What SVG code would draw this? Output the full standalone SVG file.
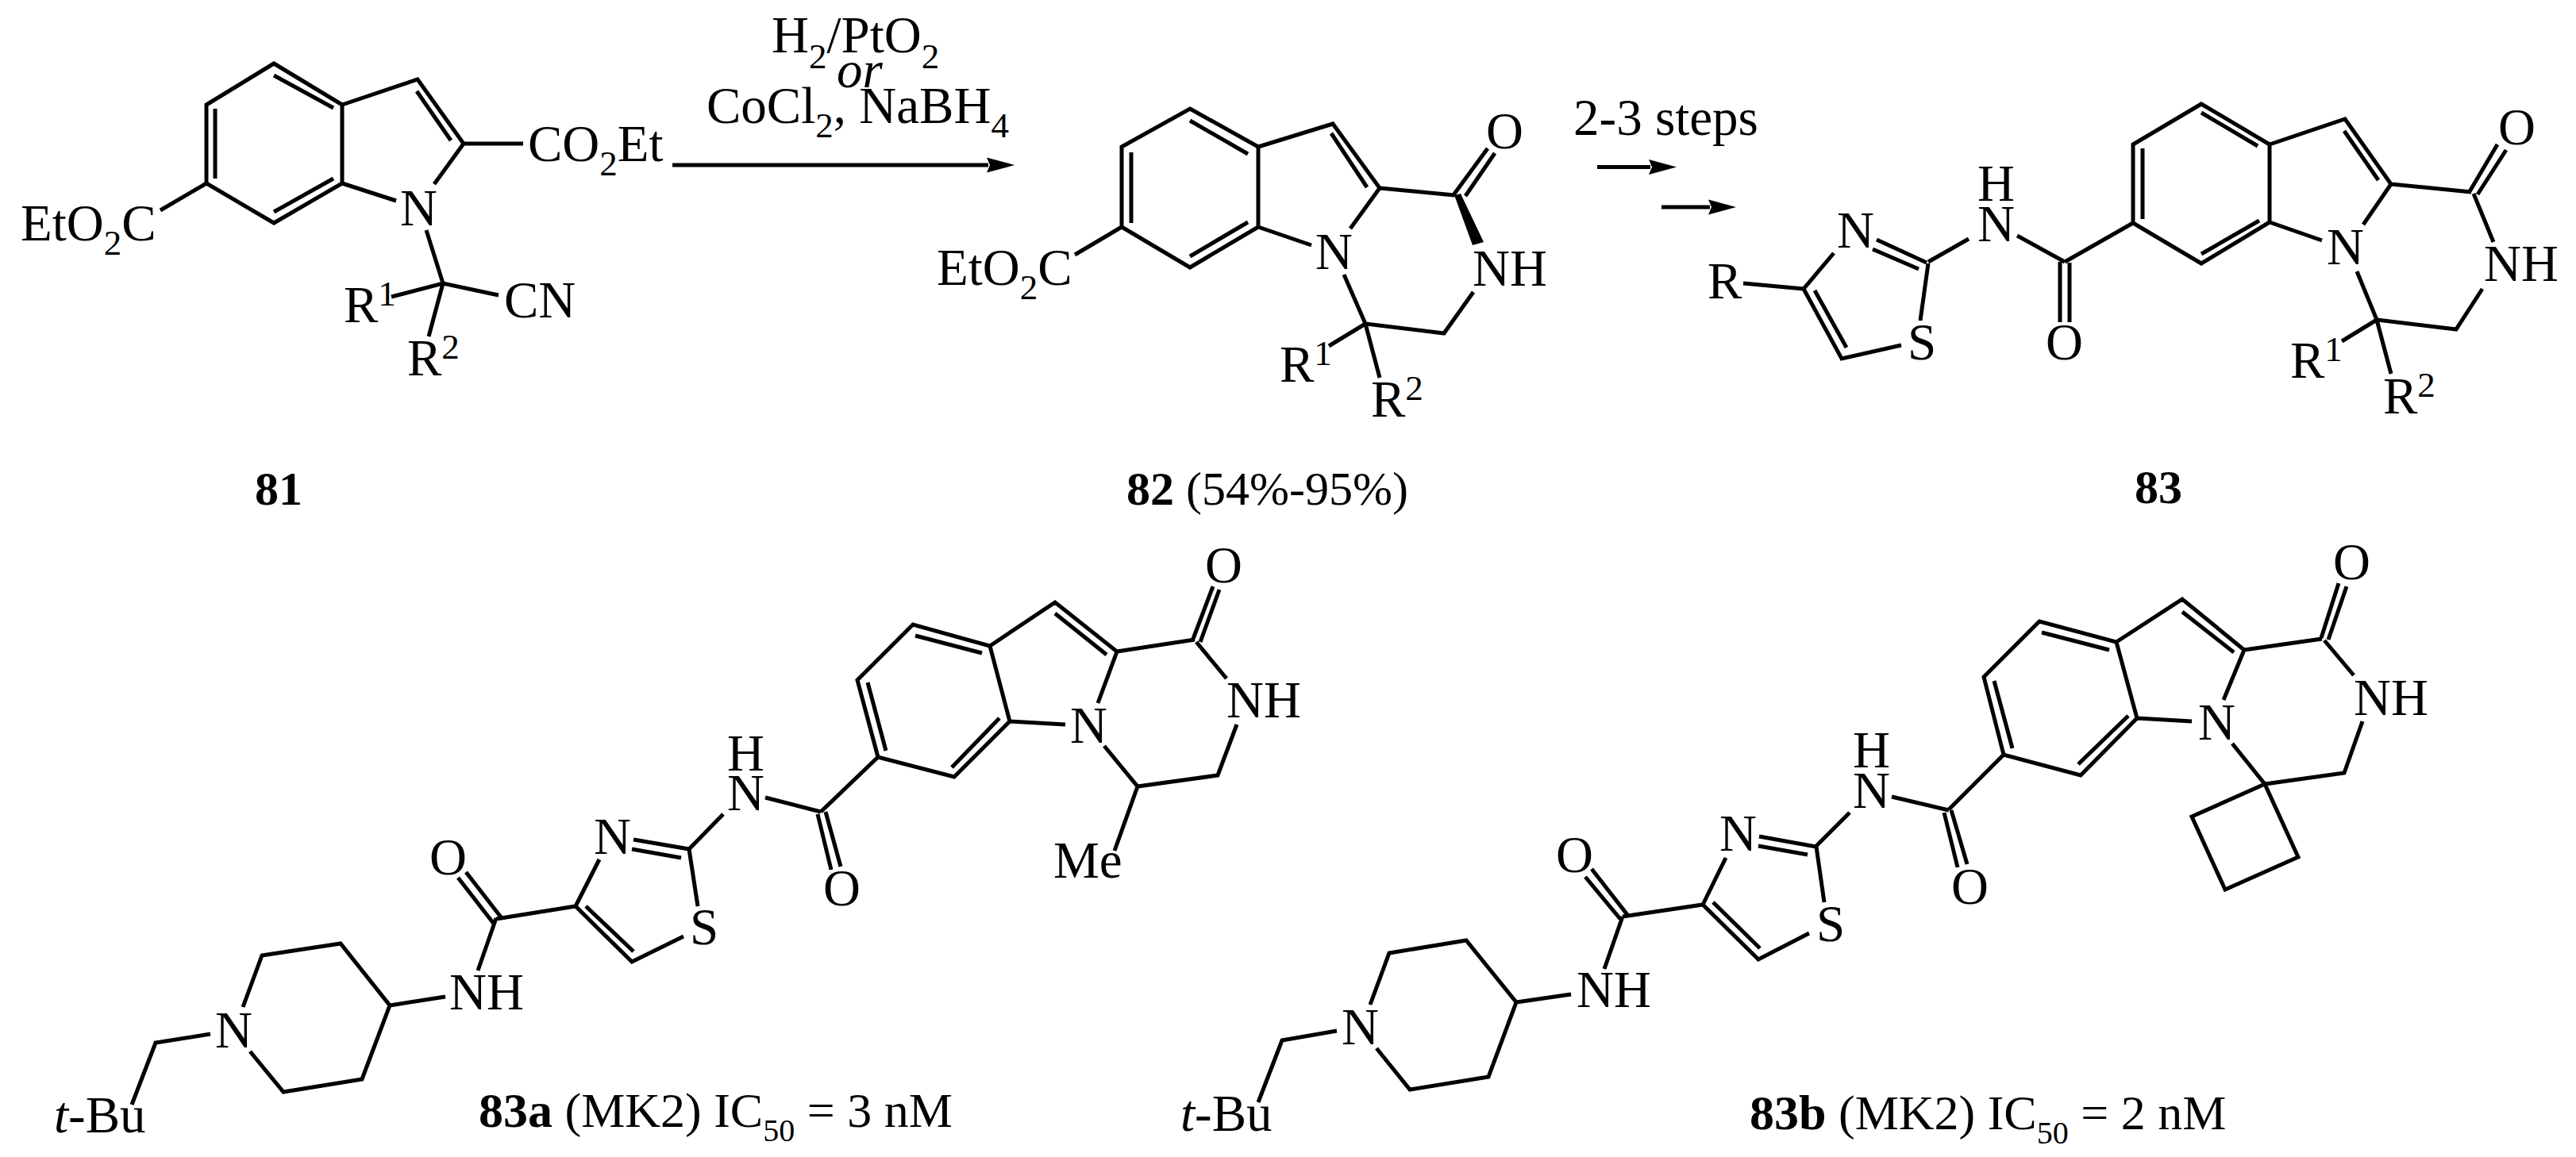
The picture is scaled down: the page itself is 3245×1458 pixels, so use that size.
<svg xmlns="http://www.w3.org/2000/svg" width="3245" height="1458" viewBox="0 0 3245 1458">
<style>
text{font-family:"Liberation Serif","Times New Roman",serif;font-size:65px;fill:#000}
.s{font-size:45px}
.b{font-weight:700;font-size:60px}
.l{font-size:62px}
.lb{font-size:62px;font-weight:700}
.i{font-style:italic}
.bond{fill:none;stroke:#000;stroke-width:5;stroke-linecap:butt;stroke-linejoin:miter}
.arrow{fill:none;stroke:#000;stroke-width:5}
</style>
<defs>
<marker id="head" markerUnits="userSpaceOnUse" markerWidth="40" markerHeight="26" refX="2" refY="13" orient="auto">
<path d="M0 3.5L35 13L0 22.5L4 13Z" fill="#000"/>
</marker>
</defs>
<rect width="3245" height="1458" fill="#fff"/>

<g id="connectors">
<path class="arrow" d="M847 208H1245" marker-end="url(#head)"/>
<path class="arrow" d="M2012 210.5H2079" marker-end="url(#head)"/>
<path class="arrow" d="M2093 261H2154" marker-end="url(#head)"/>
</g>

<g id="reagents">
<text x="972" y="66">H<tspan class="s" dy="20">2</tspan><tspan dy="-20">/PtO</tspan><tspan class="s" dy="20">2</tspan></text>
<text class="i" x="1054" y="110">or</text>
<text x="890" y="155">CoCl<tspan class="s" dy="18">2</tspan><tspan dy="-18">, NaBH</tspan><tspan class="s" dy="18">4</tspan></text>
<text x="1982" y="170">2-3 steps</text>
</g>

<g id="compound-81">
<path class="bond" d="M345 80L431 132V231L345 281L260 231V132ZM345 95L420 136M271 137V225M345 267L420 225M431 132L526 100L584 181L547 232M525 115L568 177M431 231L499 253M584 181H659M260 231L202 265M537 290L558 357M493 374L558 357L628 372M558 357L540 424"/>
<text x="26" y="303">EtO<tspan class="s" dy="18">2</tspan><tspan dy="-18">C</tspan></text>
<text x="665" y="203">CO<tspan class="s" dy="18">2</tspan><tspan dy="-18">Et</tspan></text>
<text x="504" y="284">N</text>
<text x="433" y="406">R<tspan class="s" dy="-21">1</tspan></text>
<text x="513" y="473">R<tspan class="s" dy="-21">2</tspan></text>
<text x="635" y="400">CN</text>
<text class="b" x="321" y="636">81</text>
</g>

<g id="compound-82">
<path class="bond" d="M1499 137L1585 185V286L1499 337L1413 286V185ZM1499 152L1572 194M1425 192V281M1499 323L1572 280M1585 185L1679 156L1738 237L1701 288M1677 168L1722 236M1585 286L1652 309M1738 237L1832 246M1830 247L1874 187M1846 247L1883 193M1856 368L1819 420L1720 408L1693 346M1720 408L1674 436M1720 408L1738 476M1413 286L1354 321"/>
<polygon points="1832,246 1855,309 1869,305 1840,244" fill="#000"/>
<text x="1180" y="359">EtO<tspan class="s" dy="18">2</tspan><tspan dy="-18">C</tspan></text>
<text x="1657" y="339">N</text>
<text x="1872" y="187">O</text>
<text x="1855" y="360">NH</text>
<text x="1612" y="481">R<tspan class="s" dy="-21">1</tspan></text>
<text x="1727" y="525">R<tspan class="s" dy="-21">2</tspan></text>
<text class="b" x="1419" y="636">82<tspan style="font-weight:400"> (54%-95%)</tspan></text>
</g>

<g id="compound-83">
<path class="bond" d="M2773 131L2859 182V280L2773 332L2687 281V182ZM2773 142L2844 184M2699 187V276M2773 320L2846 278M2859 182L2954 150L3012 232L2977 283M2953 165L2996 227M2859 280L2925 303M3012 232L3113 242M3110 243L3146 182M3121 245L3157 189M3116 244L3141 305M3127 364L3094 415L2994 403L2969 342M2994 403L2950 430M2994 403L3012 471M2687 281L2601 330M2595 330V406M2607 331V406M2601 330L2541 297M2480 301L2429 330M2427 331L2364 302M2417 339L2359 314M2429 332L2419 404M2395 435L2320 452L2272 364L2310 319M2326 438L2286 366M2272 364L2196 357"/>
<text x="2931" y="333">N</text>
<text x="3147" y="182">O</text>
<text x="3129" y="354">NH</text>
<text x="2885" y="476">R<tspan class="s" dy="-21">1</tspan></text>
<text x="3002" y="521">R<tspan class="s" dy="-21">2</tspan></text>
<text x="2577" y="453">O</text>
<text x="2491" y="304">N</text>
<text x="2491" y="253">H</text>
<text x="2314" y="312">N</text>
<text x="2403" y="453">S</text>
<text x="2151" y="376">R</text>
<text class="b" x="2689" y="634">83</text>
</g>

<g id="compound-83a">
<path class="bond" d="M166 1392L196 1314L265 1303M306 1269L330 1204L429 1189L491 1267L456 1360L357 1376L315 1325M491 1267L561 1256M602 1223L625 1157M622 1164L577 1106M632 1157L587 1099M625 1158L725 1142L796 1212L861 1180M738 1142L798 1199M879 1142L868 1070L798 1058M858 1081L796 1070M755 1083L725 1142M868 1070L911 1026M964 1005L1034 1023M1030 1026L1047 1096M1040 1023L1059 1092M1034 1023L1106 954L1202 979L1272 909L1247 814L1150 787L1080 857L1106 954M1116 946L1093 860M1199 967L1259 905M1153 801L1237 823M1247 814L1329 759L1407 821L1383 886M1329 773L1394 825M1272 909L1342 913M1407 821L1505 806M1503 805L1528 739M1512 809L1536 743M1507 809L1545 855M1558 913L1534 977L1433 991L1391 940M1433 991L1404 1072"/>
<text x="68" y="1427"><tspan class="i">t</tspan>-Bu</text>
<text x="271" y="1320">N</text>
<text x="566" y="1272">NH</text>
<text x="541" y="1102">O</text>
<text x="869" y="1190">S</text>
<text x="748" y="1076">N</text>
<text x="916" y="1021">N</text>
<text x="916" y="971">H</text>
<text x="1037" y="1141">O</text>
<text x="1348" y="936">N</text>
<text x="1518" y="734">O</text>
<text x="1545" y="904">NH</text>
<text x="1327" y="1106">Me</text>
<text class="l" x="603" y="1420"><tspan class="lb">83a</tspan> (MK2) IC<tspan class="s" dy="18" style="font-size:40px">50</tspan><tspan dy="-18"> = 3 nM</tspan></text>
</g>

<g id="compound-83b">
<path class="bond" d="M1585 1389L1615 1311L1684 1299M1726 1266L1750 1201L1847 1185L1910 1263L1875 1357L1776 1373L1734 1321M1910 1263L1979 1253M2021 1221L2044 1155M2041 1158L1997 1105M2051 1154L2005 1095M2044 1155L2145 1140L2215 1209L2279 1176M2158 1137L2217 1195M2298 1137L2288 1067L2216 1054M2277 1077L2215 1066M2174 1081L2145 1140M2288 1066L2330 1024M2383 1004L2455 1021M2449 1024L2466 1093M2458 1021L2478 1089M2455 1020L2524 951L2621 977L2692 905L2666 809L2569 783L2499 853L2524 951M2535 943L2512 858M2618 963L2681 902M2572 797L2657 819M2666 809L2749 755L2827 819L2801 882M2749 771L2814 822M2692 905L2761 909M2827 819L2925 805M2924 804L2946 735M2933 806L2956 739M2928 807L2965 851M2976 909L2953 974L2853 988L2812 937M2853 988L2761 1029L2803 1121L2895 1080Z"/>
<text x="1487" y="1425"><tspan class="i">t</tspan>-Bu</text>
<text x="1690" y="1316">N</text>
<text x="1986" y="1269">NH</text>
<text x="1960" y="1099">O</text>
<text x="2288" y="1186">S</text>
<text x="2166" y="1072">N</text>
<text x="2334" y="1018">N</text>
<text x="2334" y="967">H</text>
<text x="2458" y="1139">O</text>
<text x="2769" y="932">N</text>
<text x="2939" y="730">O</text>
<text x="2965" y="901">NH</text>
<text class="l" x="2204" y="1423"><tspan class="lb">83b</tspan> (MK2) IC<tspan class="s" dy="18" style="font-size:40px">50</tspan><tspan dy="-18"> = 2 nM</tspan></text>
</g>
</svg>
